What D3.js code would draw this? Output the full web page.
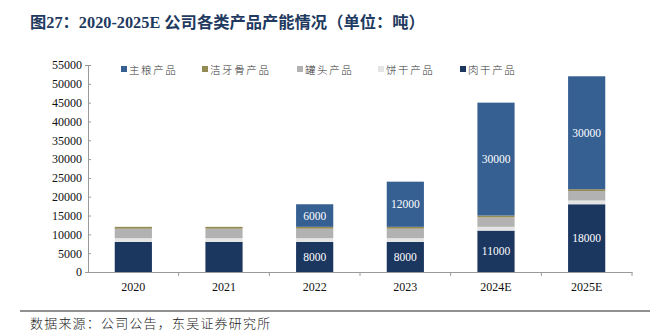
<!DOCTYPE html>
<html><head><meta charset="utf-8">
<script src="https://cdn.jsdelivr.net/npm/d3@7"></script>
<style>
body{margin:0;background:#fff;}
svg{display:block;}
</style></head>
<body>
<svg id="c" width="670" height="332"></svg>
<script>
const categories = ["2020","2021","2022","2023","2024E","2025E"];
const seriesNames = ["肉干产品","饼干产品","罐头产品","洁牙骨产品","主粮产品"];
const rougan   = [8000, 8000, 8000, 8000, 11000, 18000];
const binggan  = [1000, 1000, 1000, 1000, 1000, 1000];
const guantou  = [2500, 2500, 2500, 2500, 2500, 2500];
const jieyagu  = [500, 500, 500, 500, 500, 500];
const zhuliang = [0, 0, 6000, 12000, 30000, 30000];
const yTicks = [0,5000,10000,15000,20000,25000,30000,35000,40000,45000,50000,55000];
const labeled = {"肉干产品": [false,false,true,true,true,true], "主粮产品": [false,false,true,true,true,true]};
const colors = {"肉干产品":"#1B365F","饼干产品":"#E4E4E4","罐头产品":"#B2B2B2","洁牙骨产品":"#948A54","主粮产品":"#376092"};
const legendOrder = ["主粮产品","洁牙骨产品","罐头产品","饼干产品","肉干产品"];

const valuesBySeries = {"肉干产品":rougan,"饼干产品":binggan,"罐头产品":guantou,"洁牙骨产品":jieyagu,"主粮产品":zhuliang};
const table = categories.map((c,i)=>{const o={cat:c}; seriesNames.forEach(s=>o[s]=valuesBySeries[s][i]); return o;});
const stacked = d3.stack().keys(seriesNames)(table);

const svg = d3.select("#c");
const serif = "'Liberation Serif','Times New Roman',serif";

// Title
svg.append("text").attr("x",30).attr("y",28)
  .attr("font-family","'Liberation Serif','Noto Sans CJK SC',serif")
  .attr("font-weight","bold").attr("font-size",16.3).attr("fill","#1F3A60")
  .text("图27：2020-2025E 公司各类产品产能情况（单位：吨）");

const x = d3.scaleBand().domain(categories).range([88,632]).paddingInner(0.59).paddingOuter(0.295);
const y = d3.scaleLinear().domain([0,55000]).range([272,65]);

// bars
const g = svg.append("g");
stacked.forEach(layer=>{
  g.selectAll(null).data(layer).enter().append("rect")
    .attr("x",d=>x(d.data.cat)).attr("width",x.bandwidth())
    .attr("y",d=>y(d[1])).attr("height",d=>Math.max(0,y(d[0])-y(d[1])))
    .attr("fill",colors[layer.key]);
  if(labeled[layer.key]){
    g.selectAll(null).data(layer.filter((d,i)=>labeled[layer.key][i] && d[1]-d[0]>0)).enter().append("text")
      .attr("x",d=>x(d.data.cat)+x.bandwidth()/2).attr("y",d=>(y(d[0])+y(d[1]))/2+4)
      .attr("text-anchor","middle").attr("fill","#fff")
      .attr("font-family",serif).attr("font-size",11.5)
      .text(d=>d[1]-d[0]);
  }
});

// y axis
const ya = svg.append("g").attr("transform","translate(88,0)")
  .call(d3.axisLeft(y).tickValues(yTicks).tickSize(3).tickFormat(d3.format("d")));
ya.select(".domain").attr("stroke","#999");
ya.selectAll(".tick line").attr("stroke","#999").attr("x2",3).attr("x1",0);
ya.selectAll("text").attr("font-family",serif).attr("font-size",12).attr("fill","#111").attr("x",-6);

// x axis
const xa = svg.append("g").attr("transform","translate(0,272)")
  .call(d3.axisBottom(x).tickSize(0).tickSizeOuter(0));
xa.select(".domain").attr("stroke","#999");
xa.selectAll("text").attr("font-family",serif).attr("font-size",12).attr("fill","#111").attr("dy","1.3em");
const step = x.step();
svg.append("g").selectAll("line").data(d3.range(1,7)).enter().append("line")
  .attr("x1",d=>88+d*step).attr("x2",d=>88+d*step).attr("y1",272).attr("y2",276)
  .attr("stroke","#999");

// legend
const legX = [121,202,297,378,460];
const leg = svg.append("g");
legendOrder.forEach((s,i)=>{
  leg.append("rect").attr("x",legX[i]).attr("y",66).attr("width",6).attr("height",6).attr("fill",colors[s]);
  leg.append("text").attr("x",legX[i]+8).attr("y",73.5)
    .attr("font-family","'Noto Sans CJK SC',sans-serif").attr("font-weight",300)
    .attr("font-size",10.5).attr("letter-spacing",1.6).attr("fill","#333").text(s);
});

// source
svg.append("line").attr("x1",20).attr("x2",650).attr("y1",311).attr("y2",311).attr("stroke","#222").attr("stroke-width",1);
svg.append("text").attr("x",30).attr("y",328)
  .attr("font-family","'Noto Sans CJK SC',sans-serif").attr("font-weight",300)
  .attr("font-size",13).attr("letter-spacing",1.2).attr("fill","#222")
  .text("数据来源：公司公告，东吴证券研究所");
</script>
</body></html>
